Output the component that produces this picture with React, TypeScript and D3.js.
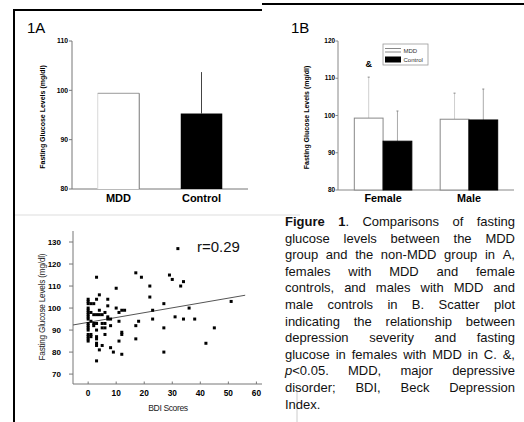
import React, { useEffect, useRef } from 'react';
import * as d3 from 'd3';

// Panel 1A: all subjects
const groupsA = ['MDD', 'Control'];
const meansA = [99.4, 95.3];
const sdA = [0, 8.4];
const ticksA = [80, 90, 100, 110];

// Panel 1B: by sex
const groupsB = ['Female', 'Male'];
const seriesB = ['MDD', 'Control'];
const mddB = [99.3, 99.0];
const controlB = [93.1, 98.8];
const mddSdB = [11.0, 7.0];
const controlSdB = [8.1, 8.3];
const ticksB = [80, 90, 100, 110, 120];

// Panel C: BDI vs glucose, females with MDD
const bdiScores = [
  0, 0, 0, 0, 0, 0, 0, 0, 0, 0, 0, 0, 0, 0, 0, 0, 0,
  1, 1, 1, 1, 1,
  2, 2, 2, 2,
  3, 3, 3, 3, 3, 3, 3, 3, 3, 3,
  4, 4, 4, 4,
  5, 5, 5, 5,
  6, 6, 6, 6,
  7, 7, 7, 7,
  8, 8, 8,
  9,
  10, 10,
  11, 11, 11,
  12, 12, 12, 12,
  13,
  17, 17, 17,
  18, 19, 22, 22, 23, 23,
  27, 27, 27,
  29, 30, 31, 32, 33, 34, 34, 36, 38, 42, 45, 51,
];
const glucoseLevels = [
  104, 103, 102, 100, 99, 98, 97, 96, 95, 93, 92, 91, 90, 88, 87, 86, 85,
  102, 98, 94, 88, 87,
  102, 97, 93, 92,
  114, 104, 97, 93, 90, 87, 86, 84, 83, 76,
  106, 99, 97, 81,
  97, 93, 91, 83,
  98, 93, 91, 88,
  104, 101, 96, 95,
  95, 92, 82,
  80,
  109, 100,
  98, 94, 85,
  99, 89, 88, 79,
  99,
  116, 92, 86,
  94, 114, 110, 105, 99, 95,
  102, 91, 80,
  115, 113, 96, 127, 110, 112, 95, 100, 95, 84, 91, 103,
];
const ticksCx = [0, 10, 20, 30, 40, 50, 60];
const ticksCy = [70, 80, 90, 100, 110, 120, 130];
const fitIntercept = 93.5;
const fitSlope = 0.22;
const rLabel = 'r=0.29';

const captionLines = [
  '*Figure* *1*. Comparisons of fasting',
  'glucose levels between the MDD',
  'group and the non-MDD group in A,',
  'females with MDD and female',
  'controls, and males with MDD and',
  'male controls in B. Scatter plot',
  'indicating the relationship between',
  'depression severity and fasting',
  'glucose in females with MDD in C. &,',
  '_p_<0.05. MDD, major depressive',
  'disorder; BDI, Beck Depression',
  'Index.',
];

const FONT = '"Liberation Sans", Arial, Helvetica, sans-serif';
const yTitle = 'Fasting Glucose Levels (mg/dl)';

const App = () => {
  const capRef = useRef<SVGGElement>(null);

  // scales
  const yA = d3.scaleLinear().domain([80, 110]).range([189, 41]);
  const xA = d3.scaleBand().domain(groupsA).range([72, 248]).paddingInner(0.5).paddingOuter(0.31);

  const yB = d3.scaleLinear().domain([80, 120]).range([190, 41]);
  const xB = d3.scaleBand().domain(groupsB).range([338, 514]).paddingInner(0.33).paddingOuter(0.19);
  const xB1 = d3.scaleBand().domain(seriesB).range([0, xB.bandwidth()]);

  const xC = d3.scaleLinear().domain([-5.4, 62]).range([73, 262]);
  const yC = d3.scaleLinear().domain([65.5, 135]).range([384, 231]);
  const fit = d3.line<number>().x(d => xC(d)).y(d => yC(fitIntercept + fitSlope * d));

  // caption, justified like the source page
  useEffect(() => {
    const g = d3.select(capRef.current);
    g.selectAll('*').remove();
    const left = 285, right = 515, top = 226, lead = 16.6;
    captionLines.forEach((line, i) => {
      const y = top + i * lead;
      const words = line.split(' ');
      const nodes = words.map(w => {
        const t = g.append('text').attr('y', y).attr('font-size', 13).attr('font-family', FONT).attr('fill', '#111');
        w.split(/(\*[^*]+\*|_[^_]+_)/).filter(s => s.length).forEach(p => {
          const ts = t.append('tspan');
          if (p.startsWith('*')) ts.attr('font-weight', 'bold').text(p.slice(1, -1));
          else if (p.startsWith('_')) ts.attr('font-style', 'italic').text(p.slice(1, -1));
          else ts.text(p);
        });
        return t;
      });
      const widths = nodes.map(n => (n.node() as SVGTextElement).getComputedTextLength());
      const total = d3.sum(widths);
      const last = i === captionLines.length - 1;
      const gap = last ? 3.6 : Math.max(3.6, (right - left - total) / (nodes.length - 1));
      let x = left;
      nodes.forEach((n, k) => {
        n.attr('x', x);
        x += widths[k] + gap;
      });
    });
  }, []);

  return (
    <svg width={524} height={422} style={{ position: 'absolute', left: 0, top: 0, background: '#fff' }} fontFamily={FONT}>
      {/* page frame */}
      <line x1={13} x2={262} y1={10} y2={10} stroke="#000" strokeWidth={2} />
      <line x1={262} x2={524} y1={4} y2={4} stroke="#000" strokeWidth={2} />
      <line x1={14} x2={14} y1={9} y2={422} stroke="#000" strokeWidth={2} />
      <line x1={15} x2={300} y1={215} y2={215} stroke="#ddd" strokeWidth={1} />
      <line x1={297} x2={297} y1={388} y2={422} stroke="#ccc" strokeWidth={1} />

      {/* 1A */}
      <text x={27} y={33} fontSize={15}>1A</text>
      <line x1={72} x2={72} y1={yA(110)} y2={yA(80)} stroke="#777" />
      <line x1={72} x2={248} y1={yA(80)} y2={yA(80)} stroke="#777" />
      {ticksA.map(t => (
        <g key={t}>
          <line x1={69} x2={72} y1={yA(t)} y2={yA(t)} stroke="#777" />
          <text x={68} y={yA(t)} dy="0.35em" fontSize={6.8} fontWeight="bold" textAnchor="end">{t}</text>
        </g>
      ))}
      <text transform={`translate(43,${(yA(80) + yA(110)) / 2 + 2}) rotate(-90)`} textAnchor="middle" dominantBaseline="middle" fontSize={7} fontWeight="bold">{yTitle}</text>
      {groupsA.map((g, i) => {
        const x0 = xA(g)!;
        const w = xA.bandwidth();
        const y0 = yA(meansA[i]);
        const yb = yA(80);
        const mdd = i === 0;
        return (
          <g key={g}>
            {sdA[i] > 0 && (
              <line x1={x0 + w / 2} x2={x0 + w / 2} y1={y0} y2={yA(meansA[i] + sdA[i])} stroke="#444" />
            )}
            {mdd ? (
              <g>
                <rect x={x0} y={y0} width={w} height={yb - y0} fill="#fff" />
                <line x1={x0} x2={x0} y1={y0} y2={yb} stroke="#d8d8d8" />
                <line x1={x0} x2={x0 + w} y1={y0} y2={y0} stroke="#999" />
                <line x1={x0 + w} x2={x0 + w} y1={y0} y2={yb} stroke="#777" />
              </g>
            ) : (
              <rect x={x0} y={y0} width={w} height={yb - y0} fill="#000" />
            )}
            <text x={x0 + w / 2} y={202} textAnchor="middle" fontSize={11} fontWeight="bold">{g}</text>
          </g>
        );
      })}

      {/* 1B */}
      <text x={291} y={33} fontSize={15}>1B</text>
      <line x1={338} x2={338} y1={yB(120)} y2={yB(80)} stroke="#888" />
      <line x1={338} x2={514} y1={yB(80)} y2={yB(80)} stroke="#888" />
      {ticksB.map(t => (
        <g key={t}>
          <line x1={335.5} x2={338} y1={yB(t)} y2={yB(t)} stroke="#888" />
          <text x={335} y={yB(t)} dy="0.35em" fontSize={6.4} fontWeight="bold" textAnchor="end">{t}</text>
        </g>
      ))}
      <text transform={`translate(307,${(yB(80) + yB(120)) / 2 + 2}) rotate(-90)`} textAnchor="middle" dominantBaseline="middle" fontSize={7} fontWeight="bold">{yTitle}</text>
      {groupsB.map((g, i) => {
        const gx = xB(g)!;
        const vals = [mddB[i], controlB[i]];
        const sds = [mddSdB[i], controlSdB[i]];
        return (
          <g key={g}>
            {seriesB.map((s, j) => {
              const x0 = gx + xB1(s)!;
              const w = xB1.bandwidth();
              const y0 = yB(vals[j]);
              const ye = yB(vals[j] + sds[j]);
              const isMdd = j === 0;
              return (
                <g key={s}>
                  <line x1={x0 + w / 2} x2={x0 + w / 2} y1={y0} y2={ye} stroke={isMdd ? '#cfcfcf' : '#aaa'} />
                  <line x1={x0 + w / 2 - 1} x2={x0 + w / 2 + 1} y1={ye} y2={ye} stroke="#888" />
                  <rect x={x0} y={y0} width={w} height={yB(80) - y0} fill={isMdd ? '#fff' : '#000'} stroke={isMdd ? '#888' : '#000'} strokeWidth={1} />
                </g>
              );
            })}
            <text x={gx + xB.bandwidth() / 2} y={201.5} textAnchor="middle" fontSize={10.8} fontWeight="bold">{g}</text>
          </g>
        );
      })}
      <text x={gxCenter(xB, xB1, 'Female', 'MDD')} y={67} textAnchor="middle" fontSize={9} fontWeight="bold">&amp;</text>
      {/* legend */}
      <g>
        <rect x={383} y={44} width={45} height={21} fill="#fff" stroke="#999" strokeWidth={0.8} />
        <line x1={385} x2={401} y1={48.5} y2={48.5} stroke="#888" />
        <line x1={385} x2={401} y1={52} y2={52} stroke="#888" />
        <rect x={385} y={56.5} width={16} height={6} fill="#000" />
        <text x={403.5} y={53} fontSize={6} fill="#333">{seriesB[0]}</text>
        <text x={403.5} y={62} fontSize={6} fill="#333">{seriesB[1]}</text>
      </g>

      {/* C: scatter */}
      <line x1={73} x2={73} y1={231} y2={384} stroke="#777" />
      <line x1={73} x2={262} y1={384} y2={384} stroke="#777" />
      {ticksCy.map(t => (
        <g key={t}>
          <line x1={69} x2={73} y1={yC(t)} y2={yC(t)} stroke="#777" />
          <text x={61} y={yC(t)} dy="0.35em" fontSize={8} fontWeight="bold" textAnchor="end">{t}</text>
        </g>
      ))}
      {ticksCx.map(t => (
        <g key={t}>
          <line x1={xC(t)} x2={xC(t)} y1={384} y2={381.5} stroke="#777" />
          <text x={xC(t)} y={396} fontSize={8.3} fontWeight="bold" textAnchor="middle">{t}</text>
        </g>
      ))}
      <text transform={`translate(43,${yC(100) - 1}) rotate(-90)`} textAnchor="middle" dominantBaseline="middle" fontSize={8.2} letterSpacing={-0.2} fill="#222">{yTitle}</text>
      <text x={168} y={411} textAnchor="middle" fontSize={8.6} letterSpacing={-0.4} fill="#222">BDI Scores</text>
      <path d={fit([-5.4, 56]) ?? ''} fill="none" stroke="#555" strokeWidth={1} />
      {bdiScores.map((b, i) => (
        <rect key={i} x={xC(b) - 1.5} y={yC(glucoseLevels[i]) - 1.5} width={3} height={3} fill="#000" />
      ))}
      <text x={197} y={252} fontSize={15} fill="#111">{rLabel}</text>

      {/* caption */}
      <g ref={capRef} />
    </svg>
  );
};

function gxCenter(xB: d3.ScaleBand<string>, xB1: d3.ScaleBand<string>, g: string, s: string) {
  return xB(g)! + xB1(s)! + xB1.bandwidth() / 2;
}

export default App;
